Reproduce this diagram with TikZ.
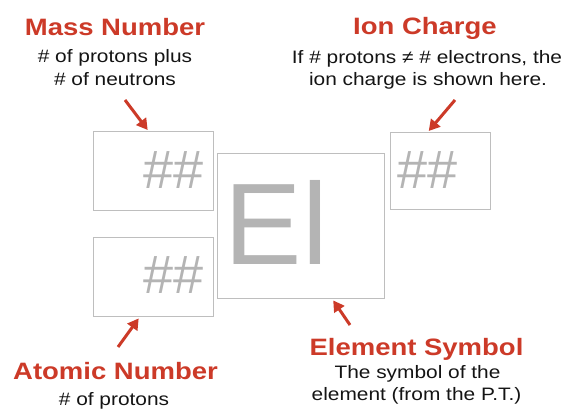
\documentclass[tikz,border=0pt]{standalone}
\usepackage{fontspec}
\usepackage{graphicx}
\setmainfont{Liberation Sans}
\usetikzlibrary{arrows.meta}
\definecolor{lblred}{RGB}{204,58,40}
\definecolor{boxgray}{RGB}{190,190,190}
\definecolor{symgray}{RGB}{180,180,180}
\definecolor{txtdark}{RGB}{20,20,20}
\newcommand\hx[1]{\scalebox{1.16}[1]{#1}}
\tikzset{
  box/.style={draw=boxgray, line width=1.4pt, rectangle, inner sep=0pt, anchor=north west},
  ttl/.style={inner sep=0pt, anchor=base, text=lblred, font=\fontsize{23.7}{28}\selectfont\bfseries},
  sub/.style={inner sep=0pt, anchor=base, text=txtdark, font=\fontsize{18}{22}\selectfont},
  hh/.style={inner sep=0pt, text=symgray, font=\fontsize{54}{60}\selectfont},
  arr/.style={draw=lblred, line width=3pt, -{Triangle[length=11pt,width=12pt]}}
}
\begin{document}
\begin{tikzpicture}[x=1pt,y=-1pt]
\useasboundingbox (0,0) rectangle (565,414);
% boxes
\node[box, minimum width=120pt, minimum height=79pt] (mass) at (93,131) {};
\node[box, minimum width=120pt, minimum height=79pt] (atomic) at (93,237) {};
\node[box, minimum width=167pt, minimum height=145pt] (el) at (217,153) {};
\node[box, minimum width=100pt, minimum height=77pt] (ion) at (390,132) {};
% symbols
\node[hh, anchor=base east] (mh) at (204,189) {\#\#};
\node[hh, anchor=base east] (ah) at (204,294) {\#\#};
\node[hh, anchor=base west] (ih) at (397,189) {\#\#};
\node[inner sep=0pt, anchor=base west, text=symgray, font=\fontsize{116}{120}\selectfont] (es) at (224.5,265) {El};
% titles
\node[ttl] (mt) at (115,36) {\hx{Mass Number}};
\node[sub] (m1) at (115,63) {\hx{\# of protons plus}};
\node[sub] (m2) at (115,86) {\hx{\# of neutrons}};
\node[ttl] (it) at (425,35) {\hx{Ion Charge}};
\node[sub] (i1) at (427,64) {\hx{If \# protons ≠ \# electrons, the}};
\node[sub] (i2) at (428,86) {\hx{ion charge is shown here.}};
\node[ttl] (at) at (115.5,379) {\hx{Atomic Number}};
\node[sub] (a1) at (114,405) {\hx{\# of protons}};
\node[ttl] (et) at (416.5,355) {\hx{Element Symbol}};
\node[sub] (e1) at (417.5,378) {\hx{The symbol of the}};
\node[sub] (e2) at (416.5,400) {\hx{element (from the P.T.)}};
% arrows
\coordinate (mtail) at (125,100);
\coordinate (itail) at (455,100);
\coordinate (atail) at (118,347);
\coordinate (etail) at (350,325);
\draw[arr] (mtail) -- ([xshift=-6pt,yshift=1pt]mass.north);
\draw[arr] (itail) -- ([xshift=-12pt,yshift=1pt]ion.north);
\draw[arr] (atail) -- ([xshift=-15pt,yshift=-1pt]atomic.south);
\draw[arr] (etail) -- ([xshift=32pt,yshift=-1pt]el.south);
\end{tikzpicture}
\end{document}
